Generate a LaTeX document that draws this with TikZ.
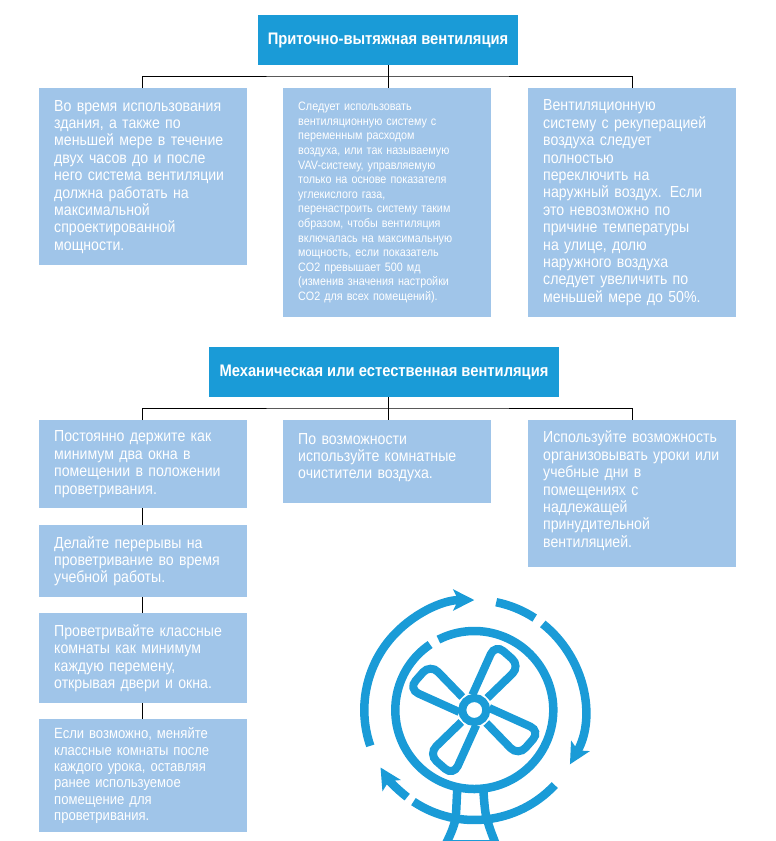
\documentclass[tikz,border=0pt]{standalone}
\usepackage{fontspec}
\setmainfont[FakeStretch=0.883]{Liberation Sans}
\usetikzlibrary{arrows.meta}
\definecolor{ventblue}{HTML}{1A9BD7}
\definecolor{ventpale}{HTML}{A0C5E9}
\tikzset{
  headbox/.style={fill=ventblue,text=white,font=\fontsize{16.7}{19}\selectfont\bfseries,inner sep=0pt,minimum height=50pt},
  infobox/.style={fill=ventpale,text=white,anchor=north west,minimum width=208pt,text width=178pt,inner xsep=15pt,inner ysep=0pt,align=left,font=\fontsize{16}{17.4}\selectfont},
  smallbox/.style={infobox,font=\fontsize{12.2}{14.6}\selectfont},
  lastbox/.style={infobox,font=\fontsize{14.8}{16.3}\selectfont},
  link/.style={draw,black,line width=0.9pt},
  fanline/.style={draw=ventblue,line width=8.5pt},
  fantip/.style={-{Stealth[length=21pt,width=21pt,inset=5pt]}}
}
\begin{document}
\begin{tikzpicture}[x=1pt,y=-1pt]
  \useasboundingbox (0,0) rectangle (776,841);
  \node[headbox,minimum width=260pt] (top1) at (388,40) {Приточно-вытяжная вентиляция};
  \node[infobox,minimum height=177pt] (a1) at (39,88) {Во время использования\\здания, а также по\\меньшей мере в течение\\двух часов до и после\\него система вентиляции\\должна работать на\\максимальной\\спроектированной\\мощности.};
  \node[smallbox,minimum height=229pt] (a2) at (283,88) {Следует использовать\\вентиляционную систему с\\переменным расходом\\воздуха, или так называемую\\VAV-систему, управляемую\\только на основе показателя\\углекислого газа,\\перенастроить систему таким\\образом, чтобы вентиляция\\включалась на максимальную\\мощность, если показатель\\CO2 превышает 500 мд\\(изменив значения настройки\\CO2 для всех помещений).};
  \node[infobox,minimum height=229pt] (a3) at (528,88) {Вентиляционную\\систему с рекуперацией\\воздуха следует\\полностью\\переключить на\\наружный воздух. Если\\это невозможно по\\причине температуры\\на улице, долю\\наружного воздуха\\следует увеличить по\\меньшей мере до 50\%.};
  \draw[link] (top1.south) -- (388,88);
  \draw[link] (a1.north -| 142,0) |- (388,76) -| (a3.north -| 632,0);

  \node[headbox,minimum width=350pt] (top2) at (384,372) {Механическая или естественная вентиляция};
  \node[infobox,minimum height=88pt] (b1) at (39,420) {Постоянно держите как\\минимум два окна в\\помещении в положении\\проветривания.};
  \node[infobox,minimum height=72pt] (b2) at (39,525) {Делайте перерывы на\\проветривание во время\\учебной работы.};
  \node[infobox,minimum height=90pt] (b3) at (39,613) {Проветривайте классные\\комнаты как минимум\\каждую перемену,\\открывая двери и окна.};
  \node[lastbox,minimum height=113pt] (b4) at (39,719) {Если возможно, меняйте\\классные комнаты после\\каждого урока, оставляя\\ранее используемое\\помещение для\\проветривания.};
  \node[infobox,minimum height=83pt] (c1) at (283,420) {По возможности\\используйте комнатные\\очистители воздуха.\par\vspace{8pt}};
  \node[infobox,minimum height=147pt] (d1) at (528,420) {Используйте возможность\\организовывать уроки или\\учебные дни в\\помещениях с\\надлежащей\\принудительной\\вентиляцией.\par\vspace{6pt}};
  \draw[link] (top2.south -| 388,0) -- (388,420);
  \draw[link] (b1.north -| 142,0) |- (388,408) -| (d1.north -| 632,0);
  \draw[link] (b1.south -| 142,0) -- (b2.north -| 142,0);
  \draw[link] (b2.south -| 142,0) -- (b3.north -| 142,0);
  \draw[link] (b3.south -| 142,0) -- (b4.north -| 142,0);

  \begin{scope}[shift={(474.3,710)},y=1pt]
    \draw[fanline] (124:79) arc[start angle=124,end angle=477,radius=79];
    \draw[fanline,fantip] (199:110) arc[start angle=199,end angle=90,radius=110];
    \draw[fanline] (78.5:110) arc[start angle=78.5,end angle=56.7,radius=110];
    \draw[fanline,fantip] (51.5:110) arc[start angle=51.5,end angle=-29.6,radius=110];
    \draw[fanline] (-43:110) arc[start angle=-43,end angle=-123.6,radius=110];
    \draw[fanline,fantip] (-127.6:110) arc[start angle=-127.6,end angle=-148.5,radius=110];
    \foreach \ang in {0,90,180,270}
      \draw[fanline,rotate=\ang,rounded corners=11pt,line width=8pt] (-2,15) -- (21,66) -- (46,44) -- (13,12);
    \draw[draw=ventblue,line width=8pt] (0,0) circle (12);
    \draw[fanline] (-17,-79) .. controls (-18,-95) and (-18,-105) .. (-19,-110) .. controls (-21,-118) and (-24,-125) .. (-28,-133);
    \draw[fanline] (9,-79) .. controls (10,-95) and (11,-105) .. (13,-110) .. controls (15,-118) and (18,-125) .. (21,-133);
    \draw[draw=ventblue,line width=1pt] (-29,-130.4) -- (22,-130.4);
  \end{scope}
\end{tikzpicture}
\end{document}
